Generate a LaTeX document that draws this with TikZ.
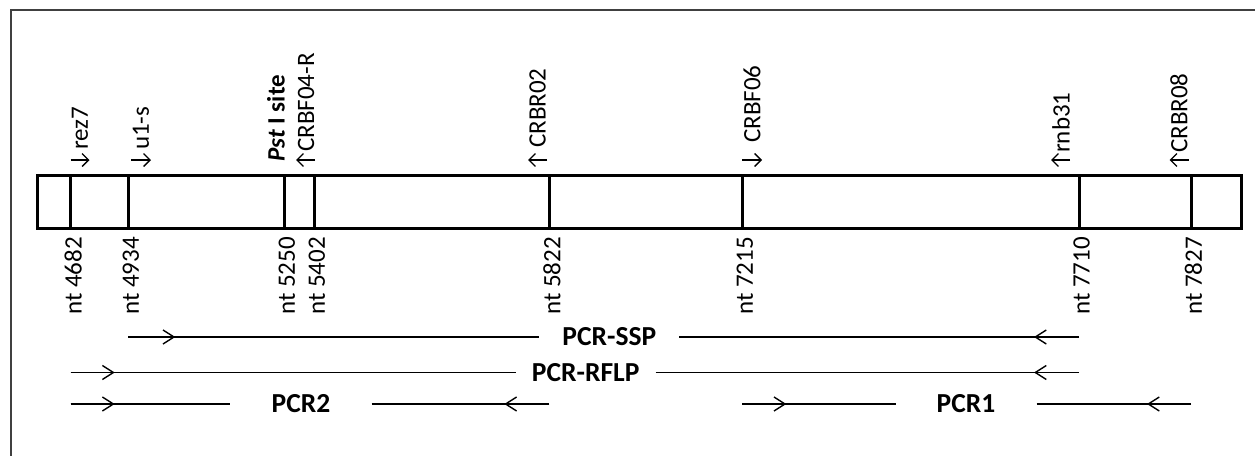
\documentclass[tikz,border=0pt]{standalone}
\usepackage{fontspec}
\setmainfont{Carlito}
\usetikzlibrary{arrows.meta}
\begin{document}
\begin{tikzpicture}[x=1pt,y=-1pt,
  lbl/.style={font=\fontsize{25}{25}\selectfont, inner sep=0pt, rotate=90},
  boldlbl/.style={lbl, font=\fontsize{25}{25}\selectfont\bfseries},
  pcr/.style={font=\fontsize{27.5}{27.5}\selectfont\bfseries, inner ysep=0pt},
  pl/.style={line width=1.4pt},
  chev/.style={pl, -{Straight Barb[length=11pt,width=14pt]}},
  primer/.style={line width=1.3pt, -{Straight Barb[length=6.5pt,width=13pt]}},
  thick box/.style={line width=3pt},
  frame/.style={line width=1.6pt, black!75}]
\useasboundingbox (0,0) rectangle (1255,455);
% outer frame (only top and left visible)
\draw[frame] (11,470) -- (11,10) -- (1270,10);
% main bar
\draw[thick box] (37.5,175) rectangle (1241.7,228);
\foreach \x/\n in {70.7/4682,128.3/4934,284.3/5250,314.3/5402,549.3/5822,742.3/7215,1079/7710,1191/7827}{
  \coordinate (m\n) at (\x,228);
  \draw[thick box] (m\n) -- (\x,175);
  \node[lbl, anchor=east] (nt\n) at (\x+2.5,237) {nt \n};
}
% arrow level for primer labels
\coordinate (arow) at (0,160);
% primer labels
\node[lbl, anchor=west] (rez7) at (80,150) {rez7};
\node[lbl, anchor=west] (u1s) at (141,150) {u1-s};
\node[boldlbl, anchor=west] (pst) at (276,162) {\textit{Pst} I site};
\node[lbl, anchor=west] (crbf04) at (306,152) {CRBF04-R};
\node[lbl, anchor=west] (crbr02) at (537.5,148) {CRBR02};
\node[lbl, anchor=west] (crbf06) at (752,143) {CRBF06};
\node[lbl, anchor=west] (rnb31) at (1061,153) {rnb31};
\node[lbl, anchor=west] (crbr08) at (1179,153) {CRBR08};
% primer direction arrows (forward -> right, reverse -> left)
\draw[primer] (rez7.west |- arow) ++(-9.5,0) -- ++(19,0);
\draw[primer] (u1s.west |- arow) ++(-10,0) -- ++(20,0);
\draw[primer] (crbf06.west |- arow) ++(-10,0) -- ++(20,0);
\draw[primer] (crbf04.west |- arow) ++(9,0) -- ++(-19,0);
\draw[primer] (crbr02.west |- arow) ++(9.5,0) -- ++(-19,0);
\draw[primer] (rnb31.west |- arow) ++(9,0) -- ++(-19,0);
\draw[primer] (crbr08.west |- arow) ++(9.5,0) -- ++(-19,0);
% PCR products
\node[pcr, inner xsep=23pt] (ssp) at (609.3,337) {PCR-SSP};
\node[pcr, inner xsep=16pt] (rflp) at (585.7,372.5) {PCR-RFLP};
\node[pcr, inner xsep=41pt] (pcr2) at (301,404) {PCR2};
\node[pcr, inner xsep=41pt] (pcr1) at (966,404) {PCR1};
% PCR-SSP
\draw[pl] (m4934 |- ssp) -- (ssp.west);
\draw[pl] (ssp.east) -- (m7710 |- ssp);
\draw[chev] (m4934 |- ssp) -- ++(47,0);
\draw[chev] (m7710 |- ssp) -- ++(-45,0);
% PCR-RFLP
\draw[pl] (m4682 |- rflp) -- (rflp.west);
\draw[pl] (rflp.east) -- (m7710 |- rflp);
\draw[chev] (m4682 |- rflp) -- ++(44,0);
\draw[chev] (m7710 |- rflp) -- ++(-45,0);
% PCR2
\draw[pl] (m4682 |- pcr2) -- (pcr2.west);
\draw[pl] (pcr2.east) -- (m5822 |- pcr2);
\draw[chev] (m4682 |- pcr2) -- ++(44,0);
\draw[chev] (m5822 |- pcr2) -- ++(-45,0);
% PCR1
\draw[pl] (m7215 |- pcr1) -- (pcr1.west);
\draw[pl] (pcr1.east) -- (m7827 |- pcr1);
\draw[chev] (m7215 |- pcr1) -- ++(44,0);
\draw[chev] (m7827 |- pcr1) -- ++(-44,0);
\end{tikzpicture}
\end{document}
